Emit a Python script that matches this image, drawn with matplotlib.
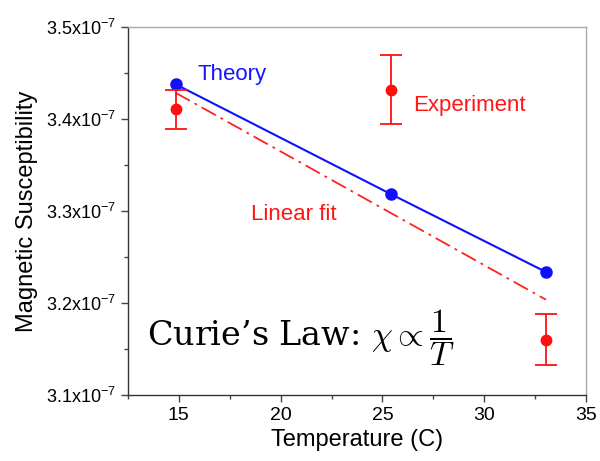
import numpy as np
import matplotlib
matplotlib.use("Agg")
import matplotlib.pyplot as plt
from matplotlib.ticker import MultipleLocator, FuncFormatter

plt.rcParams['font.family'] = ['Liberation Sans', 'DejaVu Sans']
plt.rcParams['mathtext.fontset'] = 'custom'
plt.rcParams['mathtext.rm'] = 'Liberation Sans'
plt.rcParams['mathtext.it'] = 'Liberation Sans:italic'

# Temperatures (C) and susceptibilities
theory_T = [14.84, 25.42, 33.03]
theory_chi = [3.4378e-7, 3.3183e-7, 3.2337e-7]

exp_T = [14.84, 25.42, 33.03]
exp_chi = [3.4106e-7, 3.4316e-7, 3.1602e-7]
exp_err = [0.0212e-7, 0.0375e-7, 0.0280e-7]

x_ticks = [15, 20, 25, 30, 35]
y_ticks = [3.1e-7, 3.2e-7, 3.3e-7, 3.4e-7, 3.5e-7]

fig = plt.figure(figsize=(6.0, 4.61), dpi=100)
ax = fig.add_axes([0.2133, 0.1432, 0.7634, 0.7982])

# weighted linear fit through the measured points
coef = np.polyfit(exp_T, exp_chi, 1, w=1.0 / np.array(exp_err))
fit_T = np.array([exp_T[0], exp_T[-1]])
ax.plot(fit_T, np.polyval(coef, fit_T), color='#ff2020', lw=1.3,
        linestyle=(0, (9, 3, 1.5, 3)), zorder=2)

ax.plot(theory_T, theory_chi, color='#1010ff', lw=1.5, marker='o',
        markersize=8, zorder=3)

ax.errorbar(exp_T, exp_chi, yerr=exp_err, fmt='o', color='#ff1010',
            markersize=7.5, capsize=8, elinewidth=1.3, capthick=1.3, zorder=4)

ax.text(15.9, 3.4489e-7, 'Theory', color='#1515ff', fontsize=16,
        va='center', ha='left')
ax.text(26.5, 3.4142e-7, 'Experiment', color='#ff1515', fontsize=16,
        va='center', ha='left')
ax.text(18.55, 3.2958e-7, 'Linear fit', color='#ff1515', fontsize=16,
        va='center', ha='left')
ax.text(13.45, 3.1622e-7, r'Curie’s Law: $\chi \propto \dfrac{1}{T}$',
        fontsize=24, va='center', ha='left', family='DejaVu Serif',
        math_fontfamily='cm')

ax.set_xlim(12.5, 35)
ax.set_ylim(3.1e-7, 3.5e-7)
ax.set_xticks(x_ticks)
ax.set_yticks(y_ticks)
ax.xaxis.set_minor_locator(MultipleLocator(2.5))
ax.yaxis.set_minor_locator(MultipleLocator(0.05e-7))


def fmt_y(v, pos):
    return r'%.1fx10$^{\mathregular{-7}}$' % (v * 1e7)


ax.yaxis.set_major_formatter(FuncFormatter(fmt_y))
ax.tick_params(which='major', direction='out', length=5, width=1,
               labelsize=14, color='#444444')
ax.tick_params(which='minor', direction='out', length=3, width=1,
               color='#444444')
ax.tick_params(axis='y', labelsize=13)

for side in ('left', 'bottom'):
    ax.spines[side].set_color('#333333')
    ax.spines[side].set_linewidth(1.0)
for side in ('top', 'right'):
    ax.spines[side].set_color('#aaaaaa')
    ax.spines[side].set_linewidth(1.0)

ax.set_xlabel('Temperature (C)', fontsize=17, labelpad=4)
ax.set_ylabel('Magnetic Susceptibility', fontsize=17, labelpad=6)

fig.savefig('out.png', dpi=100)
